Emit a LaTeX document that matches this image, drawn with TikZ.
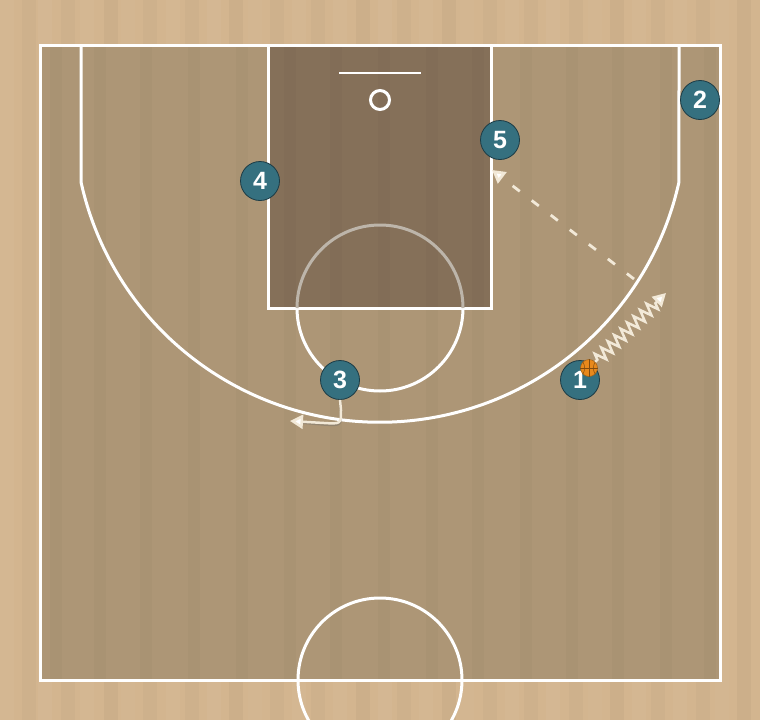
\documentclass[tikz,border=0pt]{standalone}
\usepackage{fontspec}
\setmainfont{Liberation Sans}
\usetikzlibrary{arrows.meta,decorations.pathmorphing}
\definecolor{floor}{HTML}{D3B58F}
\definecolor{court}{HTML}{AD9676}
\definecolor{paint}{HTML}{857059}
\definecolor{pteal}{HTML}{35707F}
\definecolor{pedge}{HTML}{1C3B45}
\definecolor{mvline}{HTML}{F2E9D8}
\definecolor{ftgray}{HTML}{BDB5AA}
\definecolor{ballor}{HTML}{E8891C}
\tikzset{
  courtline/.style={draw=white, line width=3pt},
  player/.style={circle, fill=pteal, draw=pedge, line width=0.8pt, minimum size=39pt, inner sep=0pt, text=white, font=\bfseries\fontsize{25}{25}\selectfont},
  ballnode/.style={circle, fill=ballor, draw=ballor!70!black, line width=0.5pt, minimum size=17pt, inner sep=0pt},
  movearrow/.style={draw=mvline, line width=2.5pt, -{Triangle[length=13pt,width=14pt,fill=white]}},
  passarrow/.style={draw=mvline, line width=2.8pt, dash pattern=on 9pt off 15pt, -{Triangle[length=13pt,width=14pt,fill=white]}},
  shadowline/.style={draw=black!60, opacity=0.35, line width=2.5pt}
}
\begin{document}
\begin{tikzpicture}[x=1pt,y=-1pt]
\useasboundingbox (0,0) rectangle (760,720);
\fill[floor] (0,0) rectangle (760,720);
% wood stripes
\foreach \x/\s in {0/3,22/-2,38/4,61/-2,80/3,104/-3,121/2,143/-2,166/3,185/-2,207/4,229/-3,248/2,270/-2,292/3,311/-2,333/3,356/-3,378/4,397/-2,419/3,442/-3,460/2,483/-2,505/3,524/-2,546/4,569/-2,588/2,610/-3,632/3,651/-2,673/3,696/-2,715/2,737/-3}
  {\ifnum\s>0 \fill[white, opacity=0.0\s] (\x,0) rectangle ++(14,720);\else \fill[black, opacity=0.0\the\numexpr-\s\relax] (\x,0) rectangle ++(14,720);\fi}
\fill[court] (40,45) rectangle (720,680);
\fill[paint] (268,45) rectangle (491,308);
\foreach \x in {50,94,140,188,236,284,330,378,426,472,520,566,612,660,704}
  \fill[black, opacity=0.02] (\x,45) rectangle ++(12,635);
% court lines
\draw[courtline] (40,45) rectangle (720,680);
\draw[courtline] (81,45) -- (81,182) arc[start angle=167.55, end angle=12.45, radius=306.2] -- (679,45);
\draw[courtline] (268,45) -- (268,308) -- (491,308) -- (491,45);
\draw[courtline] (297,308) arc[start angle=180, end angle=0, radius=83];
\draw[draw=ftgray, line width=3pt] (297,308) arc[start angle=180, end angle=360, radius=83];
\draw[courtline] (380,680) circle[radius=82];
\draw[draw=white, line width=2pt] (339,73) -- (421,73);
\draw[courtline] (380,100) circle[radius=9.5];
% players
\node[player] (p1) at (580,380) {1};
\node[player] (p2) at (700,100) {2};
\node[player] (p3) at (340,380) {3};
\node[player] (p4) at (260,181) {4};
\node[player] (p5) at (500,140) {5};
% ball
\node[ballnode] (ball) at (589,368) {};
\draw[ballor!55!black, line width=0.5pt] (ball.north) -- (ball.south) (ball.west) -- (ball.east);
\draw[ballor!55!black, line width=0.5pt] (ball.north west) to[bend left=30] (ball.south west) (ball.north east) to[bend right=30] (ball.south east);
% dribble
\coordinate (dend) at (666,293);
\draw[movearrow, decorate, decoration={zigzag, segment length=9pt, amplitude=6pt, pre length=3pt, post length=12pt}] (ball.north east) -- (dend);
% pass
\coordinate (pstart) at (634,279);
\coordinate (pend) at (492,170);
\draw[passarrow] (pstart) -- (pend);
% cut of 3
\coordinate (c3end) at (290,421);
\draw[shadowline, transform canvas={shift={(0pt,-1.5pt)}}] (p3.south) -- (341,410) .. controls (341,424) .. (324,423) -- (300,421);
\draw[movearrow] (p3.south) -- (341,410) .. controls (341,424) .. (324,423) -- (c3end);
\end{tikzpicture}
\end{document}
